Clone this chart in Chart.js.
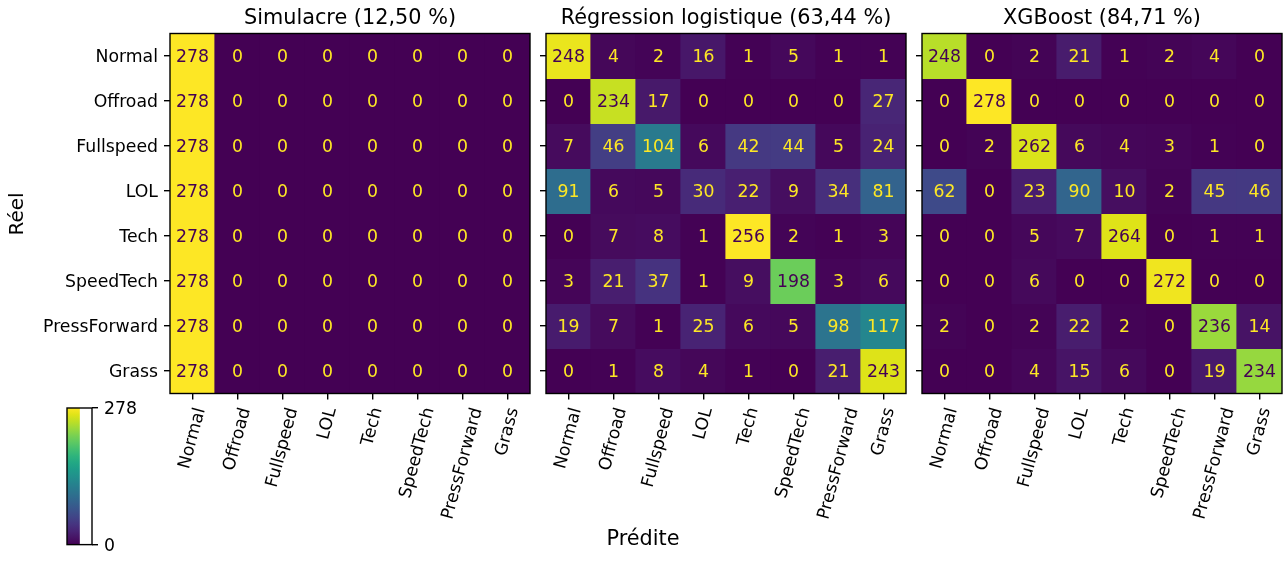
<!DOCTYPE html>
<html>
<head>
<meta charset="utf-8">
<script src="https://cdn.jsdelivr.net/npm/chart.js@4/dist/chart.umd.min.js"></script>
<style>
  html, body { margin: 0; padding: 0; background: #fff; }
  #wrap { position: relative; width: 1283px; height: 561px; }
  #wrap canvas { position: absolute; left: 0; top: 0; }
</style>
</head>
<body>
<div id="wrap">
  <canvas id="m0" width="1283" height="561"></canvas>
  <canvas id="m1" width="1283" height="561"></canvas>
  <canvas id="m2" width="1283" height="561"></canvas>
  <canvas id="cbar" width="1283" height="561"></canvas>
</div>
<script>
/* data */
const classes = ['Normal', 'Offroad', 'Fullspeed', 'LOL', 'Tech', 'SpeedTech', 'PressForward', 'Grass']
const titles = ['Simulacre (12,50 %)', 'Régression logistique (63,44 %)', 'XGBoost (84,71 %)']

const simulacre = [
    [278, 0, 0, 0, 0, 0, 0, 0],
    [278, 0, 0, 0, 0, 0, 0, 0],
    [278, 0, 0, 0, 0, 0, 0, 0],
    [278, 0, 0, 0, 0, 0, 0, 0],
    [278, 0, 0, 0, 0, 0, 0, 0],
    [278, 0, 0, 0, 0, 0, 0, 0],
    [278, 0, 0, 0, 0, 0, 0, 0],
    [278, 0, 0, 0, 0, 0, 0, 0]
]
const logreg = [
    [248, 4, 2, 16, 1, 5, 1, 1],
    [0, 234, 17, 0, 0, 0, 0, 27],
    [7, 46, 104, 6, 42, 44, 5, 24],
    [91, 6, 5, 30, 22, 9, 34, 81],
    [0, 7, 8, 1, 256, 2, 1, 3],
    [3, 21, 37, 1, 9, 198, 3, 6],
    [19, 7, 1, 25, 6, 5, 98, 117],
    [0, 1, 8, 4, 1, 0, 21, 243]
]
const xgboost = [
    [248, 0, 2, 21, 1, 2, 4, 0],
    [0, 278, 0, 0, 0, 0, 0, 0],
    [0, 2, 262, 6, 4, 3, 1, 0],
    [62, 0, 23, 90, 10, 2, 45, 46],
    [0, 0, 5, 7, 264, 0, 1, 1],
    [0, 0, 6, 0, 0, 272, 0, 0],
    [2, 0, 2, 22, 2, 0, 236, 14],
    [0, 0, 4, 15, 6, 0, 19, 234]
]
const colorbarTicks = [0, 278]

/* layout (page pixels) */
const W = 1283, H = 561
const TOP = 33.5, BOTTOM = 393.5
const panels = [
    { left: 170, right: 530 },
    { left: 546, right: 906 },
    { left: 922, right: 1282 }
]
const FONT = "'DejaVu Sans', sans-serif"
const TICK = 17.3
const BIG = 20.8

/* viridis */
const VIRIDIS = ['#440154', '#471365', '#482475', '#463480', '#414487', '#3b528b', '#355f8d',
    '#2f6c8e', '#2a788e', '#25848e', '#21918c', '#1e9c89', '#22a884', '#2fb47c', '#44bf70',
    '#5ec962', '#7ad151', '#9bd93c', '#bddf26', '#dfe318', '#fde725']

function hexRgb(h) {
    return [parseInt(h.slice(1, 3), 16), parseInt(h.slice(3, 5), 16), parseInt(h.slice(5, 7), 16)]
}
function viridis(t) {
    t = Math.max(0, Math.min(1, t))
    const p = t * (VIRIDIS.length - 1)
    const i = Math.min(Math.floor(p), VIRIDIS.length - 2)
    const f = p - i
    const a = hexRgb(VIRIDIS[i]), b = hexRgb(VIRIDIS[i + 1])
    const c = a.map((v, k) => Math.round(v + (b[k] - v) * f))
    return 'rgb(' + c.join(',') + ')'
}

Chart.defaults.font.family = FONT
Chart.defaults.font.size = TICK
Chart.defaults.color = '#000'
Chart.defaults.animation = false

const tickGrid = {
    drawOnChartArea: false,
    drawTicks: true,
    tickLength: 6,
    tickWidth: 1.4,
    lineWidth: 1.4,
    tickColor: '#000',
    offset: false
}

const cellPlugin = {
    id: 'cells',
    afterDatasetsDraw(chart) {
        const ctx = chart.ctx
        const opts = chart.options.plugins.cells
        ctx.save()
        ctx.font = TICK + 'px ' + FONT
        ctx.textAlign = 'center'
        ctx.textBaseline = 'middle'
        chart.data.datasets.forEach(function(ds, i) {
            chart.getDatasetMeta(i).data.forEach(function(el, j) {
                const v = ds.values[j]
                ctx.fillStyle = v < opts.thresh ? VIRIDIS[VIRIDIS.length - 1] : VIRIDIS[0]
                ctx.fillText(String(v), el.x, (el.y + el.base) / 2 + 2)
            })
        })
        ctx.restore()
    },
    afterDraw(chart) {
        const ctx = chart.ctx
        const a = chart.chartArea
        const opts = chart.options.plugins.cells
        ctx.save()
        // frame
        ctx.strokeStyle = '#000'
        ctx.lineWidth = 1.4
        ctx.strokeRect(a.left, a.top, a.right - a.left, a.bottom - a.top)
        // title
        ctx.fillStyle = '#000'
        ctx.font = BIG + 'px ' + FONT
        ctx.textAlign = 'center'
        ctx.textBaseline = 'alphabetic'
        ctx.fillText(opts.title, (a.left + a.right) / 2, a.top - 10)
        // rotated x tick labels, centred under each tick like matplotlib
        const xs = chart.scales.x
        const rot = 75 * Math.PI / 180
        ctx.font = TICK + 'px ' + FONT
        ctx.textAlign = 'center'
        ctx.textBaseline = 'middle'
        const y0 = a.bottom + 12
        classes.forEach(function(name, j) {
            const w = ctx.measureText(name).width
            const h = TICK * 1.17
            const bh = w * Math.sin(rot) + h * Math.cos(rot)
            ctx.save()
            ctx.translate(xs.getPixelForValue(j), y0 + bh / 2)
            ctx.rotate(-rot)
            ctx.fillText(name, 0, 0)
            ctx.restore()
        })
        if (opts.figLabels) {
            ctx.font = BIG + 'px ' + FONT
            ctx.textAlign = 'center'
            ctx.textBaseline = 'middle'
            ctx.fillText('Prédite', 643, 540)
            ctx.save()
            ctx.translate(18, 214)
            ctx.rotate(-Math.PI / 2)
            ctx.font = '20px ' + FONT
            ctx.fillText('Réel', 0, 0)
            ctx.restore()
        }
        ctx.restore()
    }
}

function makeMatrix(id, matrix, k) {
    const flat = matrix.flat()
    const vmin = Math.min(...flat), vmax = Math.max(...flat)
    const box = panels[k]
    const yw = 160, xh = 6
    const datasets = matrix.map(function(row, i) {
        return {
            label: classes[i],
            data: row.map(function() { return [i - 0.5, i + 0.5] }),
            values: row,
            backgroundColor: row.map(function(v) { return viridis((v - vmin) / (vmax - vmin)) }),
            borderWidth: 0,
            inflateAmount: 0.6,
            grouped: false,
            barPercentage: 1,
            categoryPercentage: 1
        }
    })
    return new Chart(document.getElementById(id), {
        type: 'bar',
        data: { labels: classes, datasets: datasets },
        options: {
            responsive: false,
            layout: { padding: { left: box.left - yw, right: W - box.right, top: TOP, bottom: H - BOTTOM - xh } },
            plugins: {
                legend: { display: false },
                tooltip: { enabled: false },
                cells: { thresh: (vmin + vmax) / 2, title: titles[k], figLabels: k === 0 }
            },
            scales: {
                x: {
                    type: 'category',
                    offset: true,
                    grid: tickGrid,
                    border: { display: false },
                    ticks: { display: false },
                    afterFit: function(s) { s.height = xh }
                },
                y: {
                    type: 'linear',
                    min: -0.5,
                    max: 7.5,
                    reverse: true,
                    grid: tickGrid,
                    border: { display: false },
                    afterBuildTicks: function(s) { s.ticks = classes.map(function(c, i) { return { value: i } }) },
                    ticks: {
                        display: k === 0,
                        padding: 6,
                        labelOffset: 1.5,
                        font: { size: TICK },
                        callback: function(v) { return classes[v] }
                    },
                    afterFit: function(s) { s.width = yw }
                }
            }
        },
        plugins: [cellPlugin]
    })
}

makeMatrix('m0', simulacre, 0)
makeMatrix('m1', logreg, 1)
makeMatrix('m2', xgboost, 2)

/* colorbar */
const CB = { left: 67, right: 92, top: 408, bottom: 550 }
new Chart(document.getElementById('cbar'), {
    type: 'bar',
    data: {
        labels: [''],
        datasets: [{
            data: [[colorbarTicks[0], colorbarTicks[1]]],
            borderWidth: 0,
            barPercentage: 1,
            categoryPercentage: 1,
            backgroundColor: function(c) {
                const area = c.chart.chartArea
                if (!area) return VIRIDIS[0]
                const g = c.chart.ctx.createLinearGradient(0, area.bottom, 0, area.top)
                VIRIDIS.forEach(function(col, i) { g.addColorStop(i / (VIRIDIS.length - 1), col) })
                return g
            }
        }]
    },
    options: {
        responsive: false,
        layout: { padding: { left: CB.left, right: W - CB.right - 60, top: CB.top, bottom: H - CB.bottom } },
        plugins: { legend: { display: false }, tooltip: { enabled: false } },
        scales: {
            x: { display: false, offset: false },
            y: {
                position: 'right',
                min: colorbarTicks[0],
                max: colorbarTicks[1],
                grid: tickGrid,
                border: { display: false },
                afterBuildTicks: function(s) { s.ticks = colorbarTicks.map(function(v) { return { value: v } }) },
                ticks: { padding: 6, labelOffset: 1.5, font: { size: TICK } },
                afterFit: function(s) { s.width = 60 }
            }
        }
    },
    plugins: [{
        id: 'cbframe',
        afterDraw(chart) {
            const a = chart.chartArea
            const ctx = chart.ctx
            ctx.save()
            ctx.strokeStyle = '#000'
            ctx.lineWidth = 1.4
            ctx.strokeRect(a.left, a.top, a.right - a.left, a.bottom - a.top)
            ctx.restore()
        }
    }]
})
</script>
</body>
</html>
